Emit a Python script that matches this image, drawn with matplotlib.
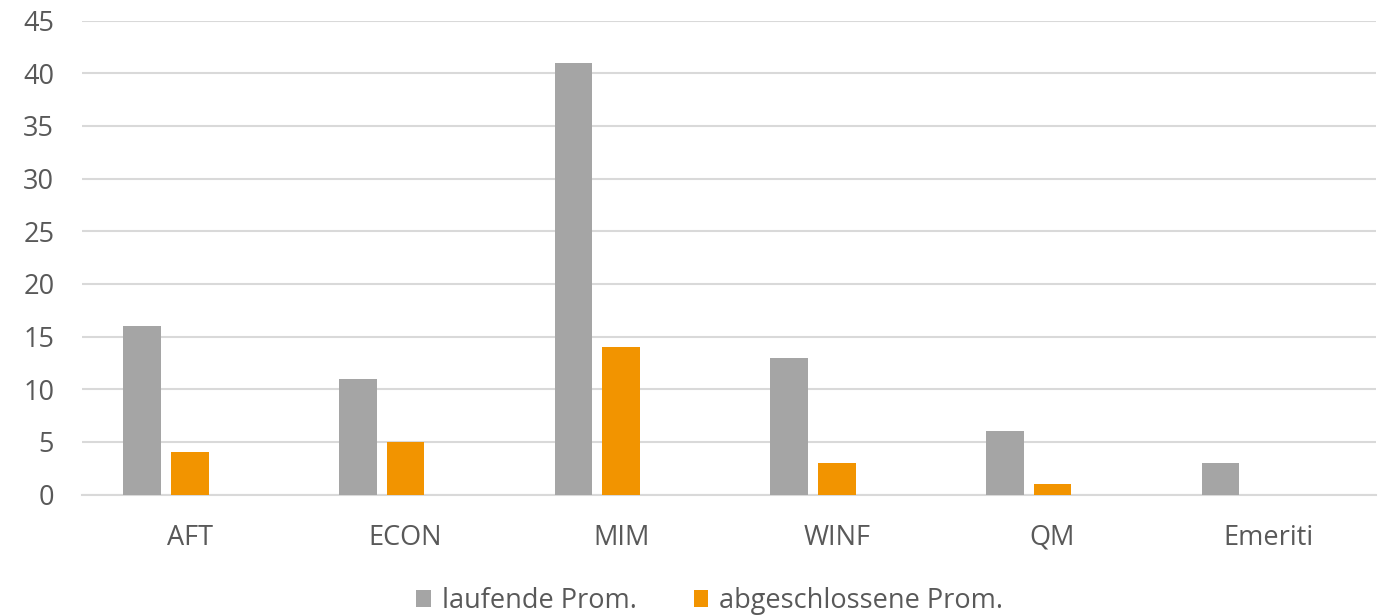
import matplotlib
matplotlib.use("Agg")
import matplotlib.pyplot as plt
import numpy as np

categories = ["AFT", "ECON", "MIM", "WINF", "QM", "Emeriti"]
laufende = [16, 11, 41, 13, 6, 3]
abgeschlossene = [4, 5, 14, 3, 1, 0]
series_names = ["laufende Prom.", "abgeschlossene Prom."]
yticks = [0, 5, 10, 15, 20, 25, 30, 35, 40, 45]

plt.rcParams['font.family'] = ['Open Sans', 'DejaVu Sans']
txt = '#595959'

fig = plt.figure(figsize=(13.86, 6.16), dpi=100)
ax = fig.add_axes([0.0592, 0.1972, 0.9336, 0.7695])

x = np.arange(len(categories))
w = 0.175
ax.bar(x - 0.221, laufende, width=w, color='#A5A5A5', label=series_names[0], zorder=3)
ax.bar(x, abgeschlossene, width=w, color='#F29400', label=series_names[1], zorder=3)

ax.set_xlim(-0.5, len(categories) - 0.5)
ax.set_ylim(0, 45)
ax.set_yticks(yticks)
ax.set_xticks(x)
ax.set_xticklabels(categories)
ax.yaxis.grid(True, color='#D9D9D9', linewidth=1.5, zorder=0)
ax.set_axisbelow(True)
for s in ['top', 'right', 'left']:
    ax.spines[s].set_visible(False)
ax.spines['bottom'].set_color('#D9D9D9')
ax.spines['bottom'].set_linewidth(1.5)
ax.tick_params(axis='both', length=0, labelsize=19.5, colors=txt)
ax.tick_params(axis='x', pad=21)
ax.tick_params(axis='y', pad=20)

leg = fig.legend(loc='lower center', bbox_to_anchor=(0.512, -0.038), ncol=2, frameon=False,
                 fontsize=19.5, handlelength=0.55, handleheight=0.55, handletextpad=0.4,
                 columnspacing=2.1)
for t in leg.get_texts():
    t.set_color(txt)

fig.savefig("out.png", dpi=100)
